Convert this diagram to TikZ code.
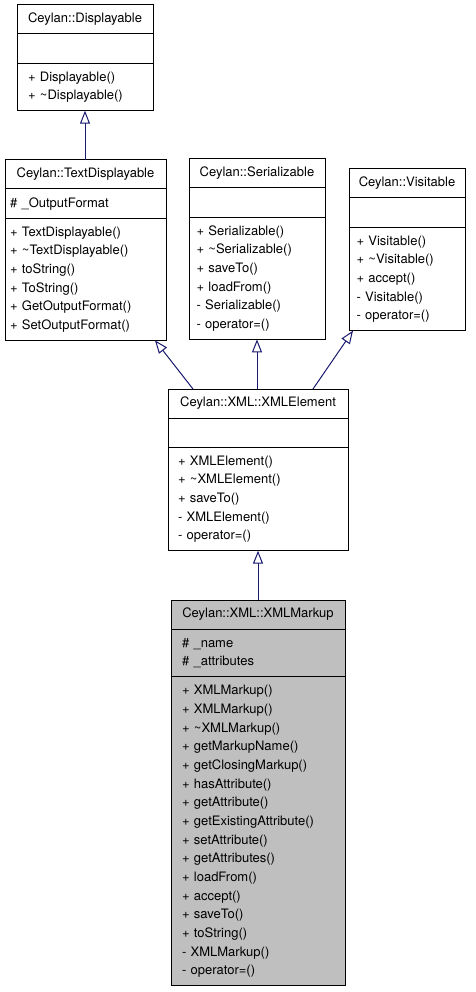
\documentclass[tikz,border=0pt]{standalone}
\usepackage{fontspec}
\setmainfont{TeX Gyre Heros}
\usepackage{xcolor}
\usetikzlibrary{arrows.meta, positioning}

\definecolor{linkblue}{HTML}{191970}
\definecolor{umlgray}{HTML}{BFBFBF}

\begin{document}
\begin{tikzpicture}[x=1pt, y=-1pt,
    font=\fontsize{13}{18.67}\selectfont,
    classname/.style={draw, line width=1pt, outer sep=0pt, inner sep=0pt, minimum height=29pt, anchor=north west},
    members/.style={draw, line width=1pt, outer sep=0pt, align=left, inner ysep=5.17pt,
        execute at begin node=\strut, execute at end node=\strut},
    inherit/.style={draw=linkblue, line width=1pt, -{Triangle[open, length=13pt, width=10pt]}}]
    \useasboundingbox (0,0) rectangle (475,992);

    % Nodes
    \node[classname, minimum width=136pt] (displayable) at (17,5) {Ceylan::Displayable};
    \node[members, text width=114pt, inner xsep=11pt, below=0pt of displayable] (displayable-attr) {};
    \node[members, text width=114pt, inner xsep=11pt, below=0pt of displayable-attr] (displayable-ops)
        {+ Displayable()\\+ \textasciitilde Displayable()};

    \node[classname, minimum width=161pt] (textdisp) at (5,160) {Ceylan::TextDisplayable};
    \node[members, text width=151pt, inner xsep=5pt, below=0pt of textdisp] (textdisp-attr) {\# \_OutputFormat};
    \node[members, text width=151pt, inner xsep=5pt, below=0pt of textdisp-attr] (textdisp-ops)
        {+ TextDisplayable()\\+ \textasciitilde TextDisplayable()\\+ toString()\\+ ToString()\\+ GetOutputFormat()\\+ SetOutputFormat()};

    \node[classname, minimum width=136pt] (serial) at (189,159) {Ceylan::Serializable};
    \node[members, text width=121pt, inner xsep=7.5pt, below=0pt of serial] (serial-attr) {};
    \node[members, text width=121pt, inner xsep=7.5pt, below=0pt of serial-attr] (serial-ops)
        {+ Serializable()\\+ \textasciitilde Serializable()\\+ saveTo()\\+ loadFrom()\\- Serializable()\\- operator=()};

    \node[classname, minimum width=116pt] (visitable) at (349,169) {Ceylan::Visitable};
    \node[members, text width=101pt, inner xsep=7.5pt, below=0pt of visitable] (visitable-attr) {};
    \node[members, text width=101pt, inner xsep=7.5pt, below=0pt of visitable-attr] (visitable-ops)
        {+ Visitable()\\+ \textasciitilde Visitable()\\+ accept()\\- Visitable()\\- operator=()};

    \node[classname, minimum width=180pt] (xmlelem) at (168,389) {Ceylan::XML::XMLElement};
    \node[members, text width=160pt, inner xsep=10pt, below=0pt of xmlelem] (xmlelem-attr) {};
    \node[members, text width=160pt, inner xsep=10pt, below=0pt of xmlelem-attr] (xmlelem-ops)
        {+ XMLElement()\\+ \textasciitilde XMLElement()\\+ saveTo()\\- XMLElement()\\- operator=()};

    \node[classname, fill=umlgray, minimum width=174pt] (xmlmarkup) at (171,600) {Ceylan::XML::XMLMarkup};
    \node[members, fill=umlgray, text width=152pt, inner xsep=11pt, below=0pt of xmlmarkup] (xmlmarkup-attr)
        {\# \_name\\\# \_attributes};
    \node[members, fill=umlgray, text width=152pt, inner xsep=11pt, below=0pt of xmlmarkup-attr] (xmlmarkup-ops)
        {+ XMLMarkup()\\+ XMLMarkup()\\+ \textasciitilde XMLMarkup()\\+ getMarkupName()\\+ getClosingMarkup()\\%
         + hasAttribute()\\+ getAttribute()\\+ getExistingAttribute()\\+ setAttribute()\\+ getAttributes()\\%
         + loadFrom()\\+ accept()\\+ saveTo()\\+ toString()\\- XMLMarkup()\\- operator=()};

    % Arrows
    \draw[inherit] (displayable-ops.south |- textdisp.north) -- (displayable-ops.south);
    \draw[inherit] ([xshift=25pt]xmlelem.north west) -- ([xshift=-11pt]textdisp-ops.south east);
    \draw[inherit] (serial-ops.south |- xmlelem.north) -- (serial-ops.south);
    \draw[inherit] ([xshift=-35pt]xmlelem.north east) -- ([xshift=4pt]visitable-ops.south west);
    \draw[inherit] (xmlelem-ops.south |- xmlmarkup.north) -- (xmlelem-ops.south);
\end{tikzpicture}
\end{document}
